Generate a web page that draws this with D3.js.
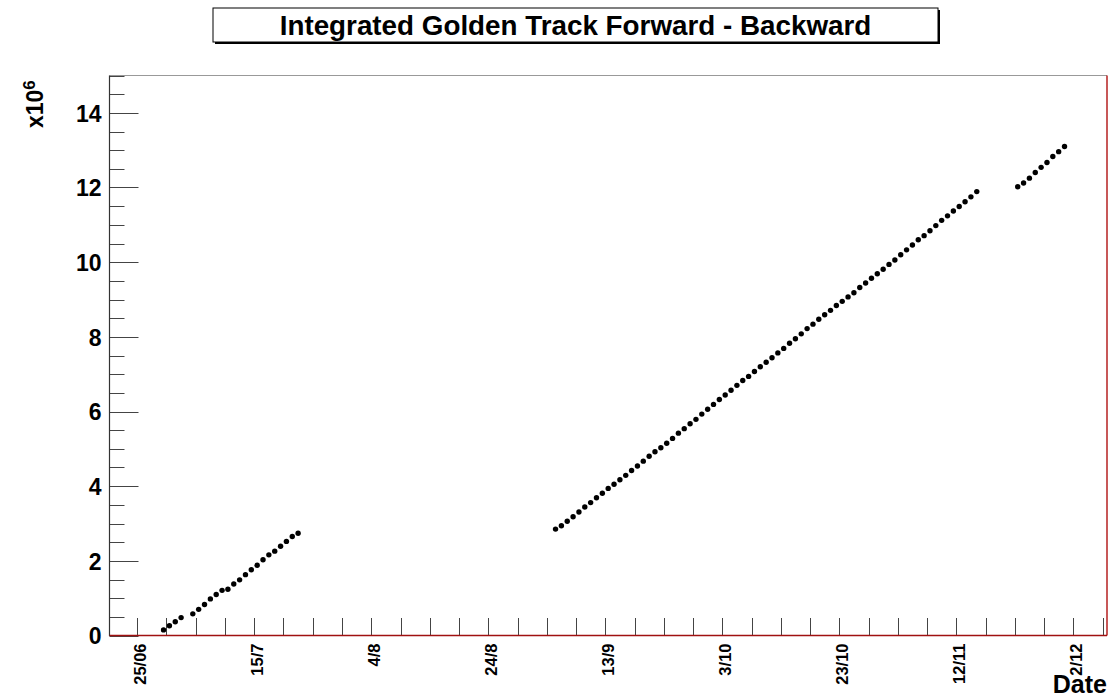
<!DOCTYPE html>
<html>
<head>
<meta charset="utf-8">
<script src="https://cdn.jsdelivr.net/npm/d3@7"></script>
<style>
  html, body { margin: 0; padding: 0; background: #ffffff; }
  svg { display: block; }
  text { font-family: "Liberation Sans", Arial, Helvetica, sans-serif; font-weight: bold; fill: #000; }
</style>
</head>
<body>
<svg id="chart" width="1111" height="697"></svg>
<script>
// Integrated golden-track count (millions), one reading per day.
// Each run segment: first day and its cumulative values; null = no reading that day.
const segment1Start = "2008-06-29";
const segment1Values = [0.15, 0.26, 0.37, 0.48, null, 0.58, 0.70, 0.83, 0.98, 1.10, 1.21, 1.24, 1.38,
  1.49, 1.63, 1.76, 1.88, 2.03, 2.16, 2.26, 2.39, 2.52, 2.65, 2.74];

const segment2Start = "2008-09-04";
const segment2Values = [2.85, 2.94, 3.06, 3.18, 3.31, 3.44, 3.56, 3.69, 3.81, 3.94,
  4.05, 4.17, 4.29, 4.42, 4.54, 4.67, 4.80, 4.92, 5.03, 5.15,
  5.28, 5.42, 5.54, 5.67, 5.79, 5.93, 6.06, 6.19, 6.32, 6.44,
  6.57, 6.70, 6.83, 6.94, 7.07, 7.20, 7.32, 7.44, 7.57, 7.69,
  7.83, 7.95, 8.08, 8.22, 8.34, 8.47, 8.59, 8.71, 8.84, 8.95,
  9.07, 9.18, 9.32, 9.44, 9.57, 9.69, 9.81, 9.94, 10.06, 10.20,
  10.33, 10.46, 10.60, 10.71, 10.84, 10.98, 11.12, 11.24, 11.37, 11.49,
  11.62, 11.75, 11.89];

const segment3Start = "2008-11-22";
const segment3Values = [12.02, 12.12, 12.25, 12.40, 12.54, 12.67, 12.83, 12.96, 13.10];

// Labelled dates along the time axis (every 20 days), minor ticks every 5 days
const xTickDates = ["2008-06-25", "2008-07-15", "2008-08-04", "2008-08-24", "2008-09-13",
  "2008-10-03", "2008-10-23", "2008-11-12", "2008-12-02"];
const xTickLabels = ["25/06", "15/7", "4/8", "24/8", "13/9", "3/10", "23/10", "12/11", "2/12"];
const yTickValues = [0, 2, 4, 6, 8, 10, 12, 14];

const titleText = "Integrated Golden Track Forward - Backward";
const xTitle = "Date";

// ---- layout ----
const frameL = 109.5, frameR = 1107, frameT = 75.5, frameB = 635.5;
const DAY = 86400000;
const origin = Date.UTC(2008, 5, 25);

const x = d3.scaleUtc()
  .domain([new Date(origin - 4.74 * DAY), new Date(origin + 165.76 * DAY)])
  .range([frameL, frameR]);
const y = d3.scaleLinear().domain([0, 15]).range([frameB, frameT]);

const svg = d3.select("#chart");

// Turn a segment into dated points (readings plotted at midday)
function expand(start, values) {
  const t0 = Date.parse(start + "T12:00:00Z");
  return values.map((v, i) => ({ date: new Date(t0 + i * DAY), value: v }))
               .filter(d => d.value !== null);
}
const points = [
  ...expand(segment1Start, segment1Values),
  ...expand(segment2Start, segment2Values),
  ...expand(segment3Start, segment3Values)
];

// ---- y axis (major + minor ticks) ----
const yAxis = d3.axisLeft(y).tickValues(yTickValues).tickSize(0).tickPadding(8);
const gy = svg.append("g").attr("transform", `translate(${frameL},0)`).call(yAxis);
gy.select(".domain").remove();
gy.selectAll("text").style("font-size", "23px").attr("dy", "0.36em")
  .style("font-family", "'Liberation Sans', Arial, sans-serif").style("font-weight", "bold");

const yMinor = d3.range(0, 15.001, 0.5);
svg.append("g").selectAll("line").data(yMinor).join("line")
  .attr("x1", frameL)
  .attr("x2", d => (Math.abs(d % 2) < 1e-9) ? frameL + 29 : frameL + 15)
  .attr("y1", d => Math.round(y(d)) + 0.5)
  .attr("y2", d => Math.round(y(d)) + 0.5)
  .attr("stroke", "#444").attr("stroke-width", 1);

// ---- x axis ticks every 5 days ----
const minorDates = d3.range(0, 166, 5).map(k => new Date(origin + k * DAY));
svg.append("g").selectAll("line").data(minorDates).join("line")
  .attr("x1", d => Math.round(x(d)) + 0.5)
  .attr("x2", d => Math.round(x(d)) + 0.5)
  .attr("y1", frameB)
  .attr("y2", frameB - 17.5)
  .attr("stroke", "#444").attr("stroke-width", 1);

const xLabelData = xTickDates.map((d, i) => ({ date: new Date(Date.parse(d + "T00:00:00Z")), label: xTickLabels[i] }));
svg.append("g").selectAll("text").data(xLabelData).join("text")
  .attr("transform", d => `translate(${x(d.date) + 9},${frameB + 8}) rotate(-90)`)
  .attr("text-anchor", "end")
  .style("font-size", "16.5px")
  .text(d => d.label);

// ---- frame ----
svg.append("line").attr("x1", frameL).attr("x2", frameR).attr("y1", frameT).attr("y2", frameT)
  .attr("stroke", "#999").attr("stroke-width", 1.2);
svg.append("line").attr("x1", frameR).attr("x2", frameR).attr("y1", frameT).attr("y2", frameB)
  .attr("stroke", "#b01010").attr("stroke-width", 1.4);
svg.append("line").attr("x1", frameL).attr("x2", frameL).attr("y1", frameT).attr("y2", frameB + 0.5)
  .attr("stroke", "#333").attr("stroke-width", 1.2);
svg.append("line").attr("x1", frameL).attr("x2", frameR).attr("y1", frameB).attr("y2", frameB)
  .attr("stroke", "#a01010").attr("stroke-width", 1.4);

// ---- markers ----
svg.append("g").selectAll("circle").data(points).join("circle")
  .attr("cx", d => x(d.date))
  .attr("cy", d => y(d.value))
  .attr("r", 2.7)
  .attr("fill", "#000");

// ---- axis titles ----
svg.append("text")
  .attr("x", 1107).attr("y", 693)
  .attr("text-anchor", "end")
  .style("font-size", "25px")
  .text(xTitle);

const yt = svg.append("text")
  .attr("transform", "translate(43,128) rotate(-90)")
  .style("font-size", "23px");
yt.append("tspan").text("x10");
yt.append("tspan").attr("dy", "-0.5em").style("font-size", "17px").text("6");

// ---- title box with shadow ----
const tb = { x: 213, y: 8, w: 725, h: 34 };
svg.append("rect").attr("x", tb.x + 2).attr("y", tb.y + 2).attr("width", tb.w).attr("height", tb.h)
  .attr("fill", "#000");
svg.append("rect").attr("x", tb.x).attr("y", tb.y).attr("width", tb.w).attr("height", tb.h)
  .attr("fill", "#fff").attr("stroke", "#000").attr("stroke-width", 1);
svg.append("text")
  .attr("x", tb.x + tb.w / 2).attr("y", 34.5)
  .attr("text-anchor", "middle")
  .style("font-size", "27.8px")
  .text(titleText);
</script>
</body>
</html>
